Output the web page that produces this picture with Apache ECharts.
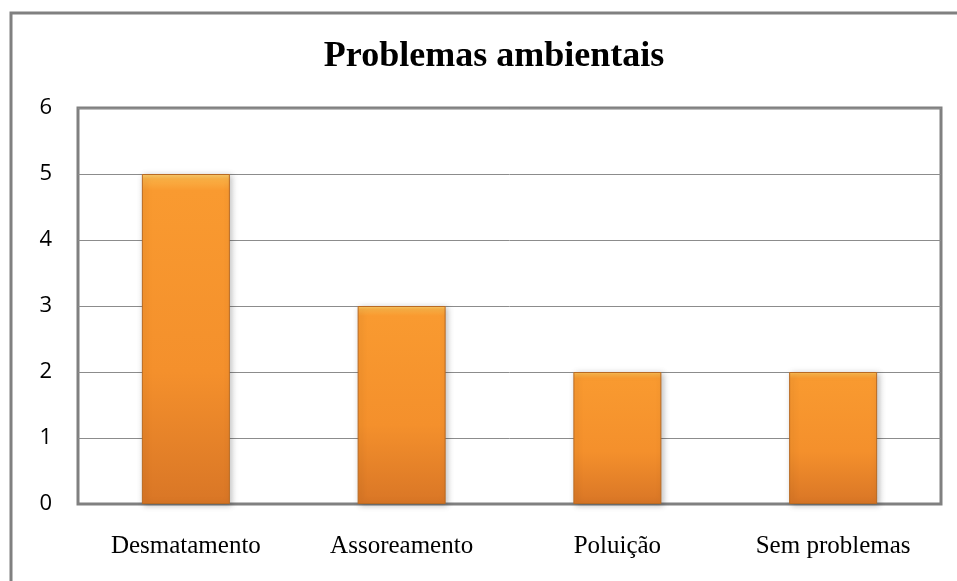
<!DOCTYPE html>
<html>
<head>
<meta charset="utf-8">
<script src="https://cdn.jsdelivr.net/npm/echarts@6/dist/echarts.min.js"></script>
<style>
  html, body { margin: 0; padding: 0; background: #fff; }
  #chart { width: 957px; height: 581px; }
</style>
</head>
<body>
<div id="chart"></div>
<script>
// dados
var categorias = ['Desmatamento', 'Assoreamento', 'Poluição', 'Sem problemas'];
var valores = [5, 3, 2, 2];
var yMin = 0, yMax = 6, yStep = 1;

var chart = echarts.init(document.getElementById('chart'));

var barStyle = {
  color: new echarts.graphic.LinearGradient(0, 0, 0, 1, [
    { offset: 0, color: '#fbd070' },
    { offset: 0.015, color: '#fab045' },
    { offset: 0.05, color: '#f99a30' },
    { offset: 0.6, color: '#f4902c' },
    { offset: 1, color: '#d97626' }
  ]),
  borderColor: '#b96a22',
  borderWidth: 1,
  shadowColor: 'rgba(0,0,0,0.25)',
  shadowBlur: 6,
  shadowOffsetX: 2,
  shadowOffsetY: 1
};

var option = {
  backgroundColor: '#fff',
  animation: false,
  title: {
    text: 'Problemas ambientais',
    left: 489,
    top: 34,
    textAlign: 'center',
    textStyle: {
      fontFamily: 'Liberation Serif',
      fontWeight: 'bold',
      fontSize: 36,
      color: '#000'
    }
  },
  graphic: [
    {
      type: 'rect',
      shape: { x: 11, y: 13, width: 990, height: 620 },
      style: { fill: 'none', stroke: '#808080', lineWidth: 3 },
      silent: true
    }
  ],
  grid: {
    left: 78,
    top: 108,
    right: 16,
    bottom: 77,
    show: true,
    borderColor: '#808080',
    borderWidth: 3,
    backgroundColor: 'transparent'
  },
  xAxis: {
    type: 'category',
    data: categorias,
    axisTick: { show: false },
    axisLine: { show: true, lineStyle: { color: '#808080', width: 2 } },
    axisLabel: {
      margin: 30,
      fontFamily: 'Liberation Serif',
      fontSize: 25,
      color: '#000'
    }
  },
  yAxis: {
    type: 'value',
    min: yMin,
    max: yMax,
    interval: yStep,
    axisLine: { show: false },
    axisTick: { show: false },
    splitLine: { show: true, lineStyle: { color: '#8c8c8c', width: 1 } },
    axisLabel: {
      margin: 26,
      fontFamily: 'Open Sans',
      fontSize: 22,
      color: '#000'
    }
  },
  series: [
    {
      type: 'bar',
      data: valores,
      barWidth: 88,
      itemStyle: barStyle
    }
  ]
};

chart.setOption(option);
</script>
</body>
</html>
